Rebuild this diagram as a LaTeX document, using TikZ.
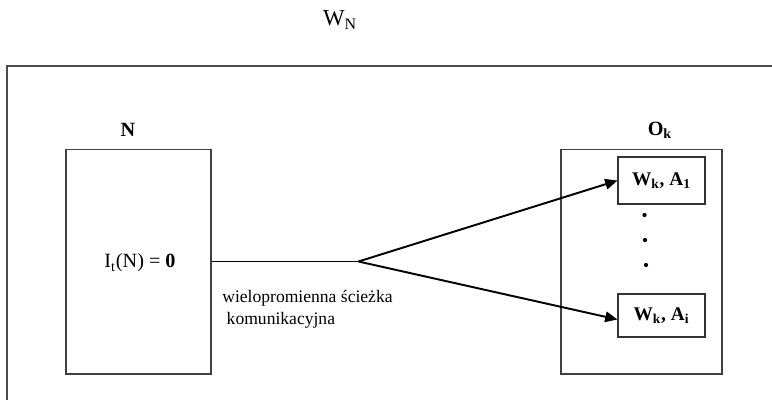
\documentclass[tikz,border=0pt]{standalone}
\usepackage{fontspec}
\setmainfont{Liberation Serif}
\usetikzlibrary{arrows.meta,positioning}

\begin{document}
\begin{tikzpicture}[x=0.02cm,y=-0.02cm,
    frame/.style={draw=black!70,line width=0.9pt},
    bigbox/.style={draw=black!75,line width=0.6pt,minimum width=2.9cm,minimum height=4.5cm,inner sep=0pt},
    smallbox/.style={draw=black!80,line width=0.6pt,minimum width=1.74cm,minimum height=0.9cm,inner sep=0pt,font=\bfseries\fontsize{11}{13}\selectfont},
    title/.style={font=\bfseries\fontsize{11.5}{13}\selectfont},
    path/.style={line width=1.1pt,-{Triangle[length=7pt,width=6pt]}},
    dot/.style={circle,fill=black,inner sep=0pt,minimum size=2.4pt}]
    \useasboundingbox (0,0) rectangle (772,400);
    % outer frame (cut off on the right and bottom)
    \draw[frame] (7,400) -- (7,66) -- (772,66);
    \node[font=\fontsize{13}{15}\selectfont] (wn) at (340,20) {W\textsubscript{N}};

    % sender
    \node[bigbox] (nbox) at (138.5,261.5) {};
    \node[title] (nlabel) at (128,130) {N};
    \node[font=\fontsize{11.5}{13}\selectfont] (itn) at (140,263) {I\textsubscript{t}(N) = \textbf{0}};

    % receiver
    \node[bigbox,minimum width=3.22cm] (okbox) at (641.5,261.5) {};
    \node[title] (oklabel) at (660,130) {O\textsubscript{k}};
    \node[smallbox,minimum height=0.94cm] (wa1) at (661.5,180.5) {W\textsubscript{k}, A\textsubscript{1}};
    \node[smallbox,minimum height=0.86cm] (wai) at (661.5,315.5) {W\textsubscript{k}, A\textsubscript{i}};
    \node[dot] (d1) at (644.5,215) {};
    \node[dot] (d2) at (645,240) {};
    \node[dot] (d3) at (646,265) {};

    % multipath
    \coordinate[right=2.94cm of nbox.east] (split);
    \draw[line width=0.8pt] (nbox.east) -- (split);
    \draw[path] (split) -- (wa1.west);
    \draw[path] (split) -- ([yshift=-0.08cm]wai.west);
    \node[anchor=north west,align=left,inner sep=0pt,font=\fontsize{10}{12.5}\selectfont] (mlabel) at (222,290)
        {wielopromienna ścieżka\\\hspace*{0.25em}komunikacyjna};
\end{tikzpicture}
\end{document}
